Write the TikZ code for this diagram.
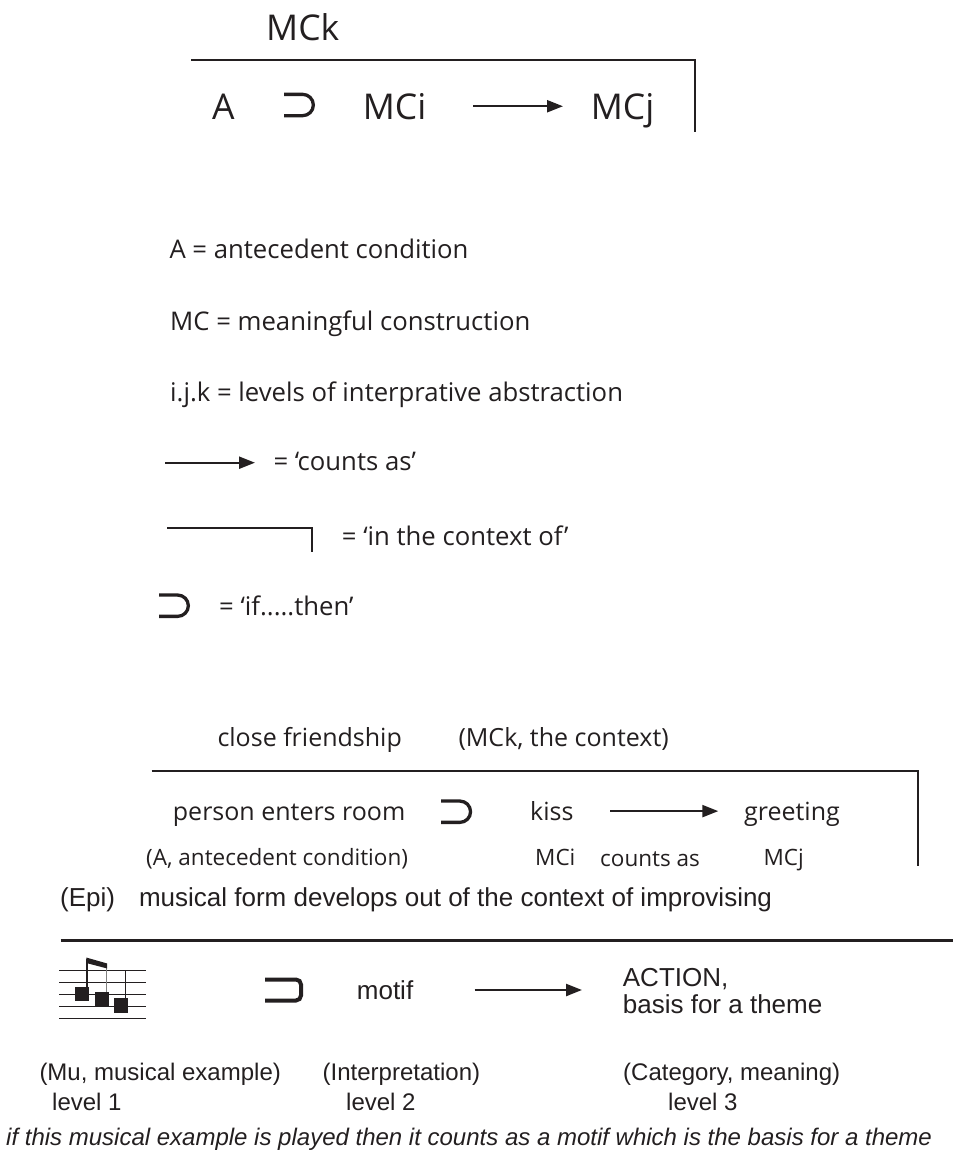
\documentclass[tikz,border=0pt]{standalone}
\usepackage{fontspec}
\setmainfont{Open Sans}
\newfontfamily\arialfont{Liberation Sans}
\usepackage{tikz}
\usetikzlibrary{arrows.meta,calc,positioning}
\definecolor{ink}{RGB}{35,31,32}
\tikzset{
  ifsym/.pic={\draw[ink,line width=3.3pt] (-15.5pt,10.65pt) -- (3.2pt,10.65pt) arc[start angle=90,end angle=-90,radius=10.65pt] -- (-15.5pt,-10.65pt);},
  ifbox/.pic={\draw[ink,line width=4pt,rounded corners=5pt] (-19pt,10.5pt) -- (17pt,10.5pt) -- (17pt,-10.5pt) -- (-19pt,-10.5pt);}
}

\begin{document}
\begin{tikzpicture}[x=1pt,y=-1pt,>={Triangle[length=16pt,width=12pt]},
  every node/.style={inner sep=0pt,text=ink,anchor=base west},
  big/.style={font=\fontsize{35.5}{42}\selectfont,text height=25.5pt,text depth=0pt},
  leg/.style={font=\fontsize{25.7}{31}\selectfont},
  mid/.style={font=\fontsize{25}{30}\selectfont,text height=17.8pt,text depth=0pt},
  sml/.style={font=\fontsize{22.5}{27}\selectfont},
  ar/.style={font=\arialfont\fontsize{24}{29}\selectfont},
  arb/.style={font=\arialfont\fontsize{26}{31}\selectfont,text height=18.6pt,text depth=0pt},
  cnt/.style={->,ink,line width=2.3pt},
  ctx/.style={ink,line width=2.3pt}]
  \useasboundingbox (0,0) rectangle (953,1157);

  % general form
  \node[big] (mck) at (266,40) {MCk};
  \coordinate (topL) at (191,60); \coordinate (topR) at (695,132);
  \draw[ctx] (topL) -| (topR);
  \node[big] (a) at (212,119) {A};
  \pic at (299.5,105) {ifsym};
  \node[big] (mci) at (362.7,119) {MCi};
  \node[big] (mcj) at (590.7,119) {MCj};
  \draw[cnt,shorten <=110.3pt,shorten >=27.7pt] (mci.west) -- (mcj.west);

  % key
  \node[leg] (defA) at (169.3,258.3) {A = antecedent condition};
  \node[leg] (defMC) at (170,330.7) {MC = meaningful construction};
  \node[leg] (defIJK) at (170,401.7) {i.j.k = levels of interprative abstraction};
  \node[leg] (defCnt) at (273.3,470) {= ‘counts as’};
  \coordinate (cntL) at (165,462.7);
  \draw[cnt,shorten >=18.3pt] (cntL) -- (cntL -| defCnt.west);
  \node[leg] (defCtx) at (341.7,545) {= ‘in the context of’};
  \coordinate (keyL) at (167.3,528.3); \coordinate (keyR) at (311.7,551.7);
  \draw[ctx] (keyL) -| (keyR);
  \node[leg] (defIf) at (219,615) {= ‘if.....then’};
  \pic at (174.5,605.7) {ifsym};

  % greeting example
  \node[mid] (friend) at (217.3,746) {close friendship};
  \node[mid] (friendNote) at (458.3,746) {(MCk, the context)};
  \coordinate (midL) at (151.7,770.7); \coordinate (midR) at (917.7,865.7);
  \draw[ctx] (midL) -| (midR);
  \node[mid] (enter) at (172.7,820) {person enters room};
  \pic at (456.7,811.7) {ifsym};
  \node[mid] (kiss) at (530,820) {kiss};
  \node[mid] (greet) at (744,820) {greeting};
  \draw[cnt,shorten <=80pt,shorten >=25.7pt] (kiss.west) -- (greet.west);
  \node[sml] (enterNote) at (146,865) {(A, antecedent condition)};
  \node[sml] (kissNote) at (535,865.7) {MCi};
  \node[sml] (cntNote) at (600,866.7) {counts as};
  \node[sml] (greetNote) at (763.3,865.7) {MCj};

  % musical example
  \node[arb] (epi) at (60,906.7) {(Epi)\hspace{24pt}musical form develops out of the context of improvising};
  \coordinate (epiL) at (60.7,940.7); \coordinate (epiR) at (953,940.7);
  \draw[ctx,line width=2.6pt] (epiL) -- (epiR);
  \foreach \y in {970.7,982.3,994.3,1006,1018}
    \draw[ink,line width=1pt] (59.3,\y) -- (146,\y);
  \fill[ink] (75,986.7) rectangle (89.3,1000.7);
  \fill[ink] (95,991.7) rectangle (109.3,1006);
  \fill[ink] (114,998.3) rectangle (128.3,1012.7);
  \draw[ink,line width=1.4pt] (87,987) -- (87,958.5);
  \draw[gray,line width=1.4pt] (106.5,992) -- (106.5,965);
  \draw[ink,line width=1.4pt] (125.5,999) -- (125.5,970.7);
  \fill[ink] (86.3,957.5) -- (107.2,963.5) -- (107.2,968.5) -- (86.3,963) -- cycle;
  \pic at (284,990) {ifbox};
  \node[arb] (motif) at (356.7,999.3) {motif};
  \node[arb] (action) at (622.7,986) {ACTION,};
  \node[arb] (basis) at (622.7,1013) {basis for a theme};
  \draw[cnt,shorten <=117.9pt,shorten >=40.7pt] (motif.west) -- (motif.west -| action.west);
  \node[ar] (muNote) at (39.3,1080) {(Mu, musical example)};
  \node[ar] (interpNote) at (322.5,1080) {(Interpretation)};
  \node[ar] (catNote) at (623,1080) {(Category, meaning)};
  \node[ar] (lvlA) at (52,1110) {level 1};
  \node[ar] (lvlB) at (346,1110) {level 2};
  \node[ar] (lvlC) at (668,1110) {level 3};
  \node[ar,font=\arialfont\itshape\fontsize{24}{29}\selectfont] (gloss) at (6,1145)
    {if this musical example is played then it counts as a motif which is the basis for a theme};
\end{tikzpicture}
\end{document}
